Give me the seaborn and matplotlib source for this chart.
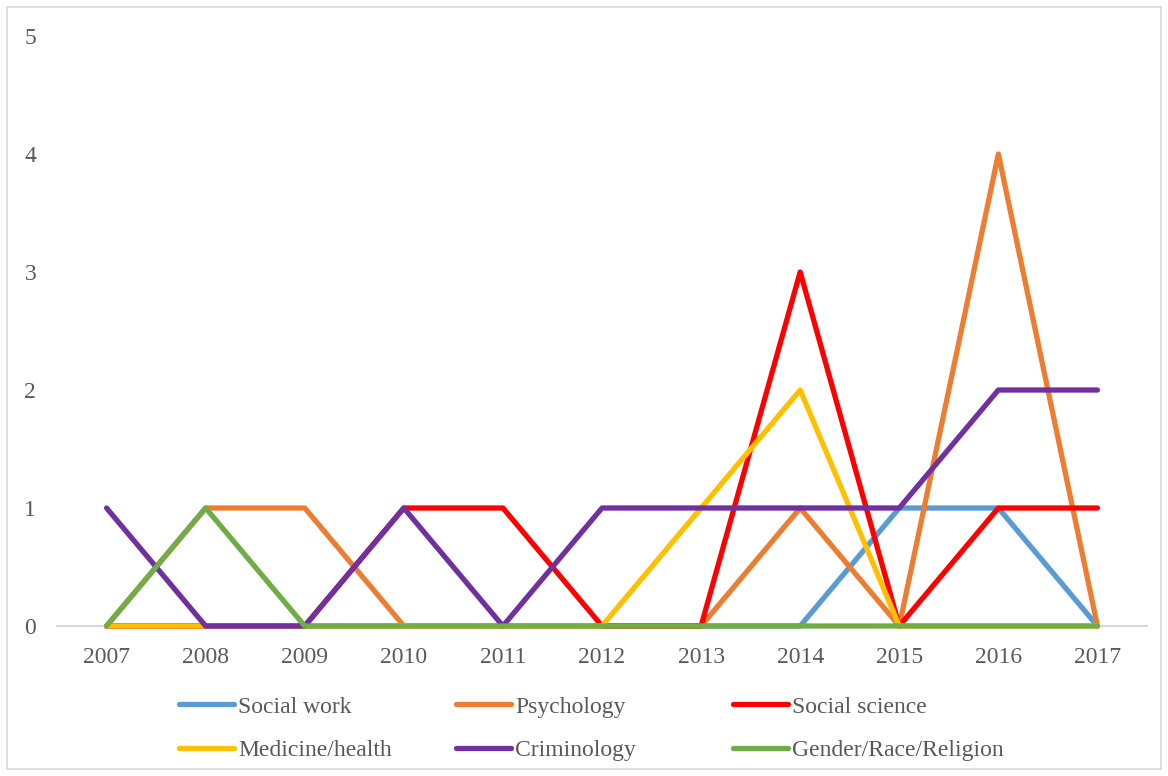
import matplotlib
matplotlib.use("Agg")
import matplotlib.pyplot as plt
from matplotlib.lines import Line2D
from matplotlib.patches import Rectangle
import seaborn as sns
import pandas as pd

years = [2007, 2008, 2009, 2010, 2011, 2012, 2013, 2014, 2015, 2016, 2017]
social_work = [0, 0, 0, 0, 0, 0, 0, 0, 1, 1, 0]
psychology = [0, 1, 1, 0, 0, 0, 0, 1, 0, 4, 0]
social_science = [0, 0, 0, 1, 1, 0, 0, 3, 0, 1, 1]
medicine_health = [0, 0, 0, 0, 0, 0, 1, 2, 0, 0, 0]
criminology = [1, 0, 0, 1, 0, 1, 1, 1, 1, 2, 2]
gender_race_religion = [0, 1, 0, 0, 0, 0, 0, 0, 0, 0, 0]

fields = ["Social work", "Psychology", "Social science",
          "Medicine/health", "Criminology", "Gender/Race/Religion"]
series = [social_work, psychology, social_science,
          medicine_health, criminology, gender_race_religion]
colors = ["#5B9BD5", "#ED7D31", "#FF0000", "#FFC000", "#7030A0", "#70AD47"]
palette = dict(zip(fields, colors))

df = pd.DataFrame(
    [(f, y, v) for f, vals in zip(fields, series) for y, v in zip(years, vals)],
    columns=["field", "year", "count"],
)

sns.set_theme(style="white")
plt.rcParams["font.family"] = ["Liberation Serif", "DejaVu Serif"]

fig = plt.figure(figsize=(11.68, 7.76), dpi=100)
ax = fig.add_axes([57 / 1168, 1 - 626 / 776, 1090 / 1168, 590 / 776])

lw = 3.8
for f in fields:
    sns.lineplot(data=df[df["field"] == f], x="year", y="count", color=palette[f],
                 linewidth=lw, ax=ax, legend=False, errorbar=None,
                 solid_capstyle="round", solid_joinstyle="round")
for line in ax.get_lines():
    line.set_clip_on(False)

ax.set_xlim(2006.5, 2017.5)
ax.set_ylim(0, 5)
ax.set_xticks(years)
ax.set_xticklabels([str(y) for y in years])
ax.set_yticks(range(0, 6))
ax.set_xlabel("")
ax.set_ylabel("")
ax.grid(False)
for s in ["top", "right", "left"]:
    ax.spines[s].set_visible(False)
ax.spines["bottom"].set_color("#D9D9D9")
ax.spines["bottom"].set_linewidth(1.5)
ax.spines["bottom"].set_zorder(0)
ax.tick_params(axis="both", length=0, labelsize=17, labelcolor="#595959")
ax.tick_params(axis="x", pad=15)
ax.tick_params(axis="y", pad=15)

# Legend laid out as three fixed-width columns of two entries each
columns = [[0, 3], [1, 4], [2, 5]]
col_x = [179, 456, 733]
for cx, idx in zip(col_x, columns):
    handles = [Line2D([], [], color=colors[i], linewidth=lw, solid_capstyle="round")
               for i in idx]
    leg = fig.legend(handles, [fields[i] for i in idx],
                     loc="upper left", bbox_to_anchor=(cx / 1168, 1 - 696 / 776),
                     frameon=False, fontsize=17, handlelength=2.35,
                     handletextpad=0.15, labelspacing=0.92, borderpad=0,
                     borderaxespad=0)
    for t in leg.get_texts():
        t.set_color("#595959")

fig.patches.append(Rectangle((7 / 1168, 7 / 776), 1154 / 1168, 762 / 776,
                             transform=fig.transFigure, fill=False,
                             edgecolor="#D9D9D9", linewidth=1.2))

fig.savefig("out.png", dpi=100, facecolor="white")
